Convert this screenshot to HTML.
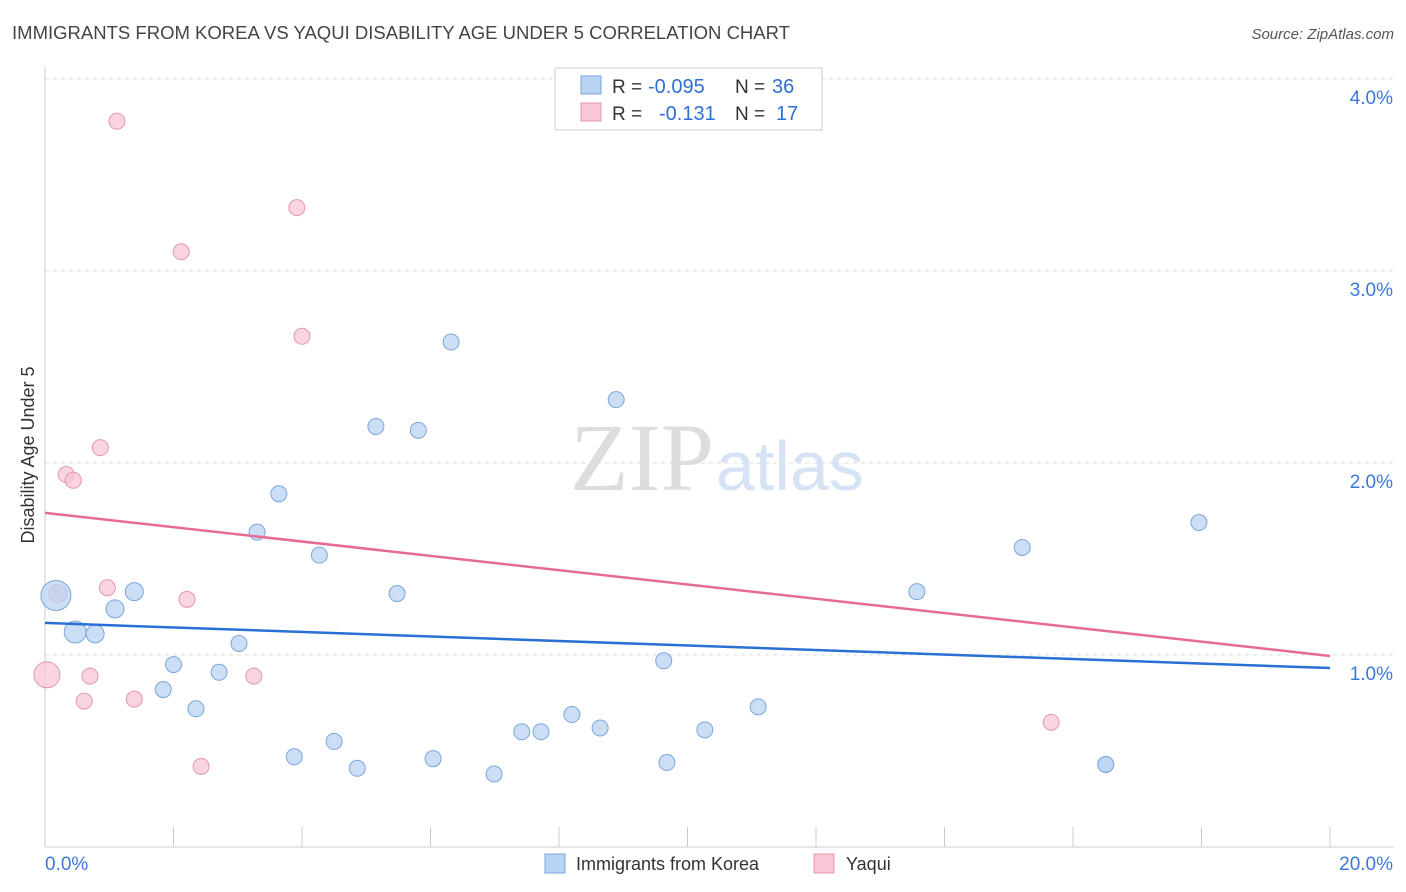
<!DOCTYPE html>
<html><head><meta charset="utf-8"><style>
body{margin:0;background:#fff;font-family:"Liberation Sans",sans-serif;}
svg{display:block}
</style></head><body>
<svg id="c" width="1406" height="892">
<text x="12" y="39" font-size="18" fill="#444" textLength="778" lengthAdjust="spacingAndGlyphs">IMMIGRANTS FROM KOREA VS YAQUI DISABILITY AGE UNDER 5 CORRELATION CHART</text>
<text x="1394" y="39" font-size="15" fill="#555" font-style="italic" text-anchor="end">Source: ZipAtlas.com</text>
<text x="34" y="455" font-size="18" fill="#333" transform="rotate(-90 34 455)" text-anchor="middle">Disability Age Under 5</text>
<text x="714" y="490" font-size="96" fill="#ddd" text-anchor="end" font-family="Liberation Serif,serif">ZIP</text>
<text x="716" y="490" font-size="70" fill="#d6e3f5">atlas</text>
<g id="grid"></g><g id="marks"></g>
<g>
<rect x="555" y="68" width="267" height="62" fill="#fff" stroke="#ccc"/>
<rect x="581" y="76" width="20" height="18" fill="#b9d3f2" stroke="#7aa6dc"/>
<rect x="581" y="103" width="20" height="18" fill="#f8c6d4" stroke="#e497ad"/>
<text x="612" y="93" font-size="19" fill="#333">R =</text>
<text x="648" y="93" font-size="20" fill="#2f6fd0">-0.095</text>
<text x="735" y="93" font-size="19" fill="#333">N =</text>
<text x="772" y="93" font-size="20" fill="#2f6fd0">36</text>
<text x="612" y="120" font-size="19" fill="#333">R =</text>
<text x="659" y="120" font-size="20" fill="#2f6fd0">-0.131</text>
<text x="735" y="120" font-size="19" fill="#333">N =</text>
<text x="776" y="120" font-size="20" fill="#2f6fd0">17</text>
</g>
<g>
<rect x="545" y="854" width="20" height="19" fill="#b9d3f2" stroke="#7aa6dc"/>
<text x="576" y="870" font-size="18" fill="#333">Immigrants from Korea</text>
<rect x="814" y="854" width="20" height="19" fill="#f8c6d4" stroke="#e497ad"/>
<text x="846" y="870" font-size="18" fill="#333">Yaqui</text>
</g>
</svg>
<script>
const yTicks=[1,2,3,4];
const xTickLabels=["0.0%","20.0%"];
const blueX=[0.17,0.47,0.78,1.09,1.39,1.84,2.0,2.35,2.71,3.02,3.3,3.64,3.88,4.27,4.5,4.86,5.15,5.48,5.81,6.04,6.32,6.99,7.42,7.72,8.2,8.64,8.89,9.63,9.68,10.27,11.1,13.57,15.21,16.51,16.51,17.96];
const blueY=[1.31,1.12,1.11,1.24,1.33,0.82,0.95,0.72,0.91,1.06,1.64,1.84,0.47,1.52,0.55,0.41,2.19,1.32,2.17,0.46,2.63,0.38,0.60,0.60,0.69,0.62,2.33,0.97,0.44,0.61,0.73,1.33,1.56,0.43,0.43,1.69];
const blueR=[15,11,9,9,9,8,8,8,8,8,8,8,8,8,8,8,8,8,8,8,8,8,8,8,8,8,8,8,8,8,8,8,8,8,8,8];
const pinkX=[0.03,0.2,0.33,0.44,0.61,0.7,0.86,0.97,1.12,1.39,2.12,2.21,2.43,3.25,3.92,4.0,15.66];
const pinkVals=[0.897,1.32,1.94,1.91,0.76,0.89,2.08,1.35,3.78,0.77,3.1,1.29,0.42,0.89,3.33,2.66,0.65];
const pinkR=[13,9,8,8,8,8,8,8,8,8,8,8,8,8,8,8,8];
const blueTrend=[1.167,0.932];
const pinkTrend=[1.74,0.995];
const X=v=>45+v*64.25, Y=v=>847-v*192;
const NS="http://www.w3.org/2000/svg";
const g=document.getElementById('grid'), m=document.getElementById('marks');
function mk(p,tag,a){const e=document.createElementNS(NS,tag);for(const k in a)e.setAttribute(k,a[k]);p.appendChild(e);return e;}
let e=mk(g,'line',{x1:45,y1:67,x2:45,y2:847,stroke:'#ccc'});


e=mk(g,'line',{x1:45,y1:847,x2:1394,y2:847,stroke:'#ccc'});


e=mk(g,'line',{x1:45,y1:79,x2:1394,y2:79,stroke:'#ddd','stroke-dasharray':'4 4'});


yTicks.forEach(t=>{
 const l=mk(g,'line',{x1:45,y1:Y(t),x2:1394,y2:Y(t),stroke:'#ddd','stroke-dasharray':'4 4'});
 
 
 const tx=mk(g,'text',{x:1393,y:Y(t)+25,'font-size':19,fill:'#3b78d8','text-anchor':'end'});
 tx.textContent=t.toFixed(1)+'%';
 
 
});
for(let i=1;i<=10;i++){
 const l=mk(g,'line',{x1:X(i*2),y1:827,x2:X(i*2),y2:847,stroke:'#ccc'});
 
 
}
xTickLabels.forEach((s,i)=>{
 const tx=mk(g,'text',{x:i?1393:45,y:870,'font-size':19,fill:'#3b78d8','text-anchor':i?'end':'start'});
 tx.textContent=s;
 
 
});
pinkX.forEach((x,i)=>{
 const c=mk(m,'circle',{cx:X(x),cy:Y(pinkVals[i]),r:pinkR[i],fill:'#f8c6d4','fill-opacity':0.75,stroke:'#e497ad'});
 
 
});
blueX.forEach((x,i)=>{
 const c=mk(m,'circle',{cx:X(x),cy:Y(blueY[i]),r:blueR[i],fill:'#b9d3f2','fill-opacity':0.75,stroke:'#7aa6dc'});
 
 
});
e=mk(m,'line',{x1:X(0),y1:Y(pinkTrend[0]),x2:X(20),y2:Y(pinkTrend[1]),stroke:'#e56b94','stroke-width':2.5});


e=mk(m,'line',{x1:X(0),y1:Y(blueTrend[0]),x2:X(20),y2:Y(blueTrend[1]),stroke:'#2a6fd4','stroke-width':2.5});


</script>
</body></html>
